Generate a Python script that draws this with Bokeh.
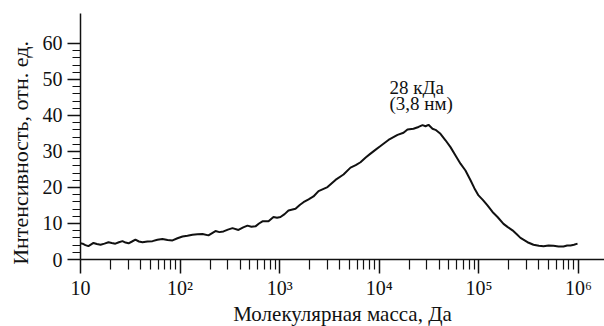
from bokeh.plotting import figure
from bokeh.models import FixedTicker, Label, Range1d
from bokeh.embed import file_html
from bokeh.resources import INLINE

# Molecular mass (Da) and intensity (arb. units)
mass = [10, 10.5, 11.2, 12.0, 12.8, 13.5, 14.6, 15.9, 17.4, 19.1, 20.6, 22.4,
        24.3, 26.4, 28.3, 30.4, 32.9, 35.6, 38.6, 41.9, 47.0, 52.8, 59.2,
        66.5, 74.8, 83.9, 94.1, 105.7, 118.5, 133.1, 149.4, 167.8, 192.7,
        226.5, 248.0, 272.7, 302.0, 335.8, 385.6, 430.0, 475.0, 520.0, 571.0,
        620.0, 671.2, 772.0, 866.4, 940.0, 1018, 1120, 1225, 1441, 1600, 1733,
        1950, 2183, 2453, 3020, 3632, 4372, 5139, 5800, 6475, 7300, 8160,
        9200, 10280, 12360, 15240, 17500, 19190, 22030, 24760, 27160, 29110,
        31190, 34200, 36650, 41120, 46210, 51860, 58220, 65330, 73300, 82380,
        90000, 99080, 110000, 121900, 137000, 153800, 176600, 195000, 217400,
        240000, 261600, 307600, 353200, 400000, 445600, 500000, 561000,
        630000, 706300, 770000, 831700, 900000, 977500]
intensity = [4.5, 4.4, 4.0, 3.7, 4.2, 4.6, 4.3, 4.1, 4.4, 4.8, 4.6, 4.4,
             4.8, 5.1, 4.7, 4.5, 5.0, 5.5, 5.0, 4.8, 5.0, 5.1, 5.5,
             5.7, 5.4, 5.3, 5.9, 6.4, 6.6, 6.9, 7.0, 7.1, 6.7,
             7.9, 7.6, 7.8, 8.3, 8.7, 8.2, 8.9, 9.4, 9.1, 9.2,
             10.0, 10.6, 10.6, 11.8, 11.6, 11.8, 12.6, 13.6, 14.1, 15.2, 15.9,
             16.7, 17.5, 19.0, 20.1, 22.1, 23.6, 25.5, 26.2, 27.0, 28.3, 29.4,
             30.5, 31.5, 33.2, 34.6, 35.2, 36.1, 36.3, 36.8, 37.3, 37.0,
             37.4, 36.3, 36.0, 34.9, 33.1, 31.2, 28.9, 26.6, 24.7, 22.0,
             19.8, 17.8, 16.5, 15.0, 13.2, 11.8, 9.9, 9.0, 8.1,
             7.0, 6.0, 4.8, 4.1, 3.8, 3.7, 3.9, 3.8,
             3.6, 3.6, 3.9, 3.9, 4.1, 4.4]

x_major = [10, 100, 1000, 10000, 100000, 1000000]
x_major_labels = ["10", "10\u00b2", "10\u00b3", "10\u2074", "10\u2075", "10\u2076"]
x_decades = [10, 100, 1000, 10000, 100000]
x_minor_mult = [2, 3, 4, 5, 6, 7, 8, 9]
x_minor = [m * d for d in x_decades for m in x_minor_mult]

y_major = [0, 10, 20, 30, 40, 50, 60]
y_minor = [2, 4, 6, 8, 12, 14, 16, 18, 22, 24, 26, 28, 32, 34, 36, 38,
           42, 44, 46, 48, 52, 54, 56, 58]

FONT = "Liberation Serif"
INK = "#111111"

p = figure(frame_width=524, frame_height=246, x_axis_type="log",
           x_range=Range1d(10, 10 ** 6.261), y_range=Range1d(0, 68.3),
           output_backend="svg", toolbar_location=None,
           min_border_left=80, min_border_right=0, min_border_top=13,
           min_border_bottom=60)

p.line(mass, intensity, line_color=INK, line_width=2)

p.xgrid.visible = False
p.ygrid.visible = False
p.outline_line_color = None
p.background_fill_color = "white"
p.border_fill_color = "white"

xa = p.xaxis[0]
xa.ticker = FixedTicker(ticks=x_major, minor_ticks=x_minor)
xa.major_label_overrides = dict(zip(x_major, x_major_labels))
xa.axis_label = "Молекулярная масса, Да"
xa.axis_label_text_font_size = "21px"
xa.major_tick_out = 14
xa.major_tick_in = 0
xa.minor_tick_out = 10
xa.minor_tick_in = 0
xa.major_label_standoff = 3
xa.axis_label_standoff = 0

ya = p.yaxis[0]
ya.ticker = FixedTicker(ticks=y_major, minor_ticks=y_minor)
# trailing no-break spaces move the centred label down, as in the reference
ya.axis_label = "Интенсивность,  отн. ед.\u00a0\u00a0\u00a0\u00a0\u00a0"
ya.axis_label_text_font_size = "22px"
ya.major_tick_out = 13
ya.major_tick_in = 0
ya.minor_tick_out = 8
ya.minor_tick_in = 0
ya.major_label_standoff = 5
ya.axis_label_standoff = 7

for ax in (xa, ya):
    ax.axis_line_color = INK
    ax.axis_line_width = 1.5
    ax.major_tick_line_color = INK
    ax.major_tick_line_width = 1.5
    ax.minor_tick_line_color = INK
    ax.minor_tick_line_width = 1.2
    ax.major_label_text_font = FONT
    ax.major_label_text_font_size = "20px"
    ax.major_label_text_color = INK
    ax.axis_label_text_font = FONT
    ax.axis_label_text_font_style = "normal"
    ax.axis_label_text_color = INK

p.add_layout(Label(x=12650, y=47.8, text="28 кДа", text_align="left",
                   text_baseline="alphabetic", text_font=FONT,
                   text_font_size="19px", text_color=INK))
p.add_layout(Label(x=12650, y=43.3, text="(3,8 нм)", text_align="left",
                   text_baseline="alphabetic", text_font=FONT,
                   text_font_size="19px", text_color=INK))

open("out.html", "w").write(file_html(p, INLINE))
